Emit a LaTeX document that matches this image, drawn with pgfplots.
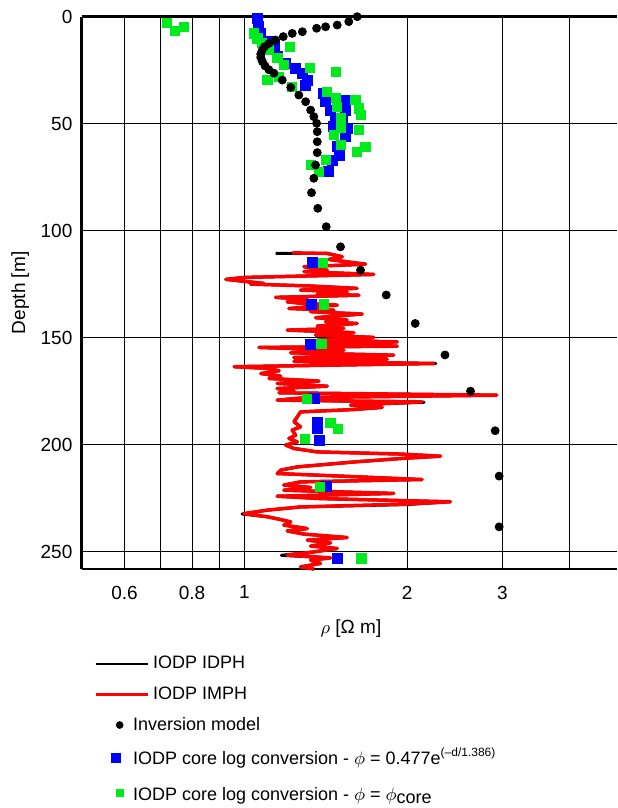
\documentclass[border=0pt]{standalone}
\usepackage{pgfplots}
\pgfplotsset{compat=1.18}
\usepackage{fontspec}
\setmainfont{Liberation Sans}
\definecolor{cblue}{RGB}{0,0,255}
\definecolor{cgreen}{RGB}{0,235,30}
\definecolor{cred}{RGB}{255,0,0}
\pgfplotsset{
  lineleg/.style={legend image code/.code={\draw[##1] (0pt,0pt) -- (26pt,0pt);}},
  markleg/.style={legend image code/.code={\path (0pt,0pt) (26pt,0pt); \draw[##1] plot[only marks] coordinates {(#1,0pt)};}},
}

\pgfplotstableread{
x d
1.226 110.3
1.423 110.6
1.517 112.1
1.433 113.4
1.675 115.6
1.289 116.8
1.423 118.4
1.289 119.1
1.735 120.4
0.998 121.8
0.924 122.7
1.006 123.7
1.087 124.6
1.027 124.9
1.326 125.8
1.616 126.9
1.270 127.7
1.549 128.5
1.364 129.6
1.628 130.1
1.142 131.1
1.307 132.1
1.200 133.2
1.289 134.0
1.485 134.7
1.209 136.3
1.464 137.1
1.326 137.8
1.651 138.9
1.464 139.9
1.354 140.6
1.549 141.7
1.413 142.5
1.616 143.3
1.364 144.5
1.527 145.6
1.200 146.4
1.594 147.6
1.354 148.7
1.735 149.8
1.364 151.1
1.917 151.9
1.423 152.9
1.917 153.9
1.064 154.5
1.527 155.8
1.218 157.0
1.889 158.1
1.235 159.2
1.837 160.0
1.235 161.0
2.240 162.0
0.957 163.5
1.103 164.3
1.159 165.4
1.072 166.7
1.167 167.9
1.111 169.0
1.374 170.2
1.150 171.3
1.423 172.6
1.150 173.7
1.235 174.8
1.159 175.7
2.930 176.8
1.307 177.9
1.150 179.1
2.131 179.9
1.572 181.4
1.798 182.5
1.594 183.5
1.270 184.6
1.253 186.9
1.235 189.2
1.270 191.6
1.226 193.1
1.244 195.5
1.209 197.0
1.253 198.6
1.192 200.1
1.235 201.7
1.364 203.3
1.944 204.3
2.306 205.3
1.944 206.4
1.594 208.0
1.253 210.3
1.167 211.8
1.150 213.4
1.506 214.6
2.131 216.2
1.270 217.3
1.183 218.8
1.326 219.9
1.183 221.2
1.889 222.7
1.150 224.0
1.383 225.1
2.404 226.6
1.972 227.7
1.270 229.0
1.103 230.5
0.998 232.1
1.103 233.6
1.167 234.9
1.218 236.0
1.183 237.5
1.307 239.1
1.200 240.2
1.289 241.7
1.549 243.3
1.307 244.5
1.443 245.8
1.326 247.3
1.485 248.4
1.345 250.0
1.200 251.5
1.443 252.8
1.326 253.9
1.383 255.4
1.270 257.0
1.345 258.0
}\imph

\pgfplotstableread{
x d
1.142 110.6
1.226 110.6
1.423 110.6
1.517 112.1
1.433 113.4
1.675 115.6
1.289 116.8
1.423 118.4
1.289 119.1
1.735 120.4
0.998 121.8
0.924 122.7
1.006 123.7
1.087 124.6
1.027 124.9
1.326 125.8
1.616 126.9
1.270 127.7
1.549 128.5
1.364 129.6
1.628 130.1
1.142 131.1
1.307 132.1
1.200 133.2
1.289 134.0
1.485 134.7
1.209 136.3
1.464 137.1
1.326 137.8
1.651 138.9
1.464 139.9
1.354 140.6
1.549 141.7
1.413 142.5
1.616 143.3
1.364 144.5
1.527 145.6
1.200 146.4
1.594 147.6
1.354 148.7
1.735 149.8
1.364 151.1
1.917 151.9
1.423 152.9
1.917 153.9
1.064 154.5
1.527 155.8
1.218 157.0
1.889 158.1
1.235 159.2
1.837 160.0
1.235 161.0
2.260 162.0
0.957 163.5
1.103 164.3
1.159 165.4
1.072 166.7
1.167 167.9
1.111 169.0
1.374 170.2
1.150 171.3
1.423 172.6
1.150 173.7
1.235 174.8
1.159 175.7
2.930 176.8
1.307 177.9
1.150 179.1
2.150 180.1
1.572 181.4
1.798 182.5
1.594 183.5
1.270 184.6
1.253 186.9
1.235 189.2
1.270 191.6
1.226 193.1
1.244 195.5
1.209 197.0
1.253 198.6
1.192 200.1
1.235 201.7
1.364 203.3
1.944 204.3
2.306 205.3
1.944 206.4
1.594 208.0
1.253 210.3
1.167 211.8
1.150 213.4
1.506 214.6
2.131 216.2
1.270 217.3
1.183 218.8
1.326 219.9
1.183 221.2
1.889 222.7
1.150 224.0
1.383 225.1
2.404 226.6
1.990 227.9
1.270 229.0
1.103 230.5
0.990 232.3
1.103 233.6
1.167 234.9
1.218 236.0
1.183 237.5
1.307 239.1
1.200 240.2
1.289 241.7
1.549 243.3
1.307 244.5
1.443 245.8
1.326 247.3
1.485 248.4
1.345 250.0
1.170 251.6
1.443 252.8
1.326 253.9
1.383 255.4
1.270 257.0
1.345 258.0
}\idph

\pgfplotstableread{
x d
1.617 0
1.56 2.3
1.485 3.9
1.413 4.7
1.36 5.4
1.28 7.0
1.226 7.8
1.18 9.3
1.142 10.9
1.11 12.5
1.09 14.0
1.079 15.6
1.072 17.5
1.072 19.0
1.08 21.0
1.092 23.0
1.11 24.8
1.134 26.4
1.175 29.6
1.218 33.0
1.261 36.6
1.298 39.7
1.326 43.6
1.344 46.7
1.36 49.8
1.364 53.7
1.364 58.4
1.364 63.5
1.354 69.3
1.344 75.5
1.331 82.2
1.367 89.5
1.417 98.1
1.506 107.5
1.64 118.4
1.83 130
2.07 143.3
2.35 158
2.62 174.9
2.91 193.4
2.96 214.6
2.96 238.3
}\inversion

\pgfplotstableread{
x d
1.057 0.8
1.061 4.7
1.072 7.8
1.118 11.7
1.134 14.0
1.151 18.7
1.192 21.8
1.244 24.1
1.280 26.4
1.307 29.6
1.298 31.9
1.403 35.8
1.413 39.7
1.443 43.6
1.528 38.9
1.538 43.6
1.517 48.3
1.549 52.1
1.538 56.1
1.485 60.7
1.496 64.6
1.452 67.0
1.433 72.4
1.475 47.5
1.464 51.4
1.335 114.9
1.331 134.4
1.326 152.9
1.350 178.5
1.364 189.3
1.364 192.5
1.379 197.8
1.417 219.6
1.485 253.0
}\coreblue

\pgfplotstableread{
x d
0.718 2.8
0.743 6.5
0.774 4.7
1.042 7.8
1.057 10.1
1.079 12.4
1.110 15.6
1.151 19.4
1.183 22.6
1.214 14.0
1.320 24.1
1.475 25.7
1.103 29.6
1.159 28.0
1.226 32.7
1.423 35.0
1.475 38.1
1.485 42.0
1.605 38.9
1.628 42.8
1.640 45.9
1.506 47.5
1.506 52.1
1.628 52.9
1.464 55.3
1.506 59.9
1.674 60.7
1.617 63.0
1.413 67.0
1.326 69.3
1.373 72.4
1.397 114.9
1.403 134.4
1.388 152.9
1.303 178.5
1.443 189.7
1.491 192.6
1.292 197.4
1.379 219.6
1.646 253.0
}\coregreen

\begin{document}
\fontsize{9.5}{11}\selectfont
\begin{tikzpicture}
\begin{axis}[
  scale only axis, width=267.65pt, height=276.15pt,
  xmode=log, xmin=0.5, xmax=4.89, ymin=0, ymax=258, y dir=reverse,
  axis x line*=box, axis y line*=left,
  axis line style={line width=1.3pt},
  xtick={0.6,0.7,0.8,0.9,1,2,3,4}, xticklabels={0.6,,0.8,,1,2,3,},
  ytick={0,50,100,150,200,250}, yticklabels={0,50,100,150,200,250},
  minor xtick={},
  grid=major, grid style={black, line width=0.5pt},
  major tick length=0pt,
  xticklabel style={yshift=-5pt},
  yticklabel style={xshift=-1.3pt},
  clip=false,
  xlabel={$\rho$ [Ω m]},
  xlabel style={at={(axis description cs:0.503,-0.107)}, anchor=center},
  legend style={draw=none, fill=none, at={(axis description cs:0.023,-0.15)}, anchor=north west,
    inner sep=0pt, row sep=3.5pt, font=\fontsize{9}{11}\selectfont,
    nodes={inner sep=2pt}},
  legend cell align=left,
]
\addlegendimage{black, line width=1.3pt, lineleg}
\addlegendentry{IODP IDPH}
\addlegendimage{cred, line width=1.3pt, lineleg}
\addlegendentry{IODP IMPH}
\addlegendimage{mark=*, mark size=1.7pt, black, markleg=12pt}
\addlegendentry{\hspace*{-10pt}Inversion model}
\addlegendimage{mark=square*, mark size=2.3pt, cblue, markleg=10pt}
\addlegendentry{\hspace*{-10pt}IODP core log conversion - $\phi$ = 0.477e\textsuperscript{(–d/1.386)}}
\addlegendimage{mark=square*, mark size=1.8pt, cgreen, markleg=12pt}
\addlegendentry{\hspace*{-10pt}\rule{0pt}{9pt}IODP core log conversion - $\phi$ = $\phi_{\textrm{core}}$}

\addplot[forget plot, black, line width=1.5pt, line join=round] table[x=x,y=d] {\idph};
\addplot[forget plot, cred, line width=1.75pt, line join=round] table[x=x,y=d] {\imph};
\addplot[forget plot, only marks, mark=square*, mark size=2.5pt, cblue] table[x=x,y=d] {\coreblue};
\addplot[forget plot, only marks, mark=square*, mark size=2.3pt, cgreen] table[x=x,y=d] {\coregreen};
\addplot[forget plot, only marks, mark=*, mark size=2pt, black] table[x=x,y=d] {\inversion};
\node[rotate=90, anchor=center] at (axis description cs:-0.115,0.5) {Depth [m]};
\coordinate (BL) at (axis description cs:0,0);
\coordinate (TR) at (axis description cs:1,1);
\end{axis}
\pgfresetboundingbox
\path[use as bounding box] ([xshift=-40.85pt,yshift=-119.5pt]BL) rectangle ([yshift=8.35pt]TR);
\end{tikzpicture}
\end{document}
